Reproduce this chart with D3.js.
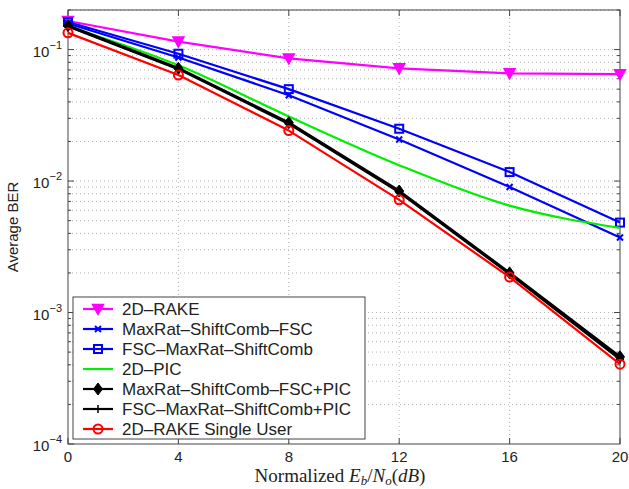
<!DOCTYPE html>
<html>
<head>
<meta charset="utf-8">
<title>BER chart</title>
<style>
body { margin: 0; background-color: #ffffff; }
text { font-family: "Liberation Sans", Arial, sans-serif; }
</style>
</head>
<body>
<script src="https://d3js.org/d3.v7.min.js"></script>
<script>

// data
var snr = [0, 4, 8, 12, 16, 20];
var rake = [0.165, 0.115, 0.0856, 0.072, 0.066, 0.065];
var maxFsc = [0.158, 0.087, 0.045, 0.0207, 0.0090, 0.00372];
var fscMax = [0.162, 0.093, 0.050, 0.0250, 0.0117, 0.00483];
var pic = [0.150, 0.076, 0.031, 0.0132, 0.0065, 0.0044];
var maxFscPic = [0.152, 0.072, 0.0278, 0.0084, 0.0020, 0.00046];
var fscMaxPic = [0.150, 0.071, 0.0272, 0.0082, 0.00196, 0.00044];
var singleUser = [0.134, 0.064, 0.0242, 0.0072, 0.00186, 0.000405];

var xTicks = [0, 4, 8, 12, 16, 20];
var yDecades = [-4, -3, -2, -1];

var series = [
  {name: "2D\u2013RAKE", vals: rake, color: "#ff00ff", marker: "tri", width: 2.2},
  {name: "MaxRat\u2013ShiftComb\u2013FSC", vals: maxFsc, color: "#0000ff", marker: "x", width: 2.2},
  {name: "FSC\u2013MaxRat\u2013ShiftComb", vals: fscMax, color: "#0000ff", marker: "square", width: 2.2},
  {name: "2D\u2013PIC", vals: pic, color: "#00ee00", marker: null, width: 2.2},
  {name: "MaxRat\u2013ShiftComb\u2013FSC+PIC", vals: maxFscPic, color: "#000000", marker: "diamond", width: 2.8},
  {name: "FSC\u2013MaxRat\u2013ShiftComb+PIC", vals: fscMaxPic, color: "#000000", marker: "plus", width: 2.2},
  {name: "2D\u2013RAKE Single User", vals: singleUser, color: "#ff0000", marker: "circle", width: 2.2}
];

var W = 629, H = 489;
var margin = {left: 68, right: 9, top: 10, bottom: 45};

var svg = d3.select("body").append("svg")
  .attr("width", W).attr("height", H);

var x = d3.scaleLinear().domain([0, 20]).range([margin.left, W - margin.right]);
var y = d3.scaleLog().domain([1e-4, 0.2]).range([H - margin.bottom, margin.top]);

var x0 = x.range()[0], x1 = x.range()[1];
var yb = y.range()[0], yt = y.range()[1];

// minor values for grid
var minors = [];
yDecades.forEach(function(e) {
  for (var k = 1; k <= 9; k++) {
    var v = k * Math.pow(10, e);
    if (v <= 0.2 && v > 1e-4) minors.push(v);
  }
});

var grid = svg.append("g");
grid.selectAll("line.gy").data(minors).enter().append("line")
  .attr("x1", x0).attr("x2", x1)
  .attr("y1", function(d) { return y(d); })
  .attr("y2", function(d) { return y(d); })
  .attr("stroke", "#b0b0b0").attr("stroke-width", 1)
  .attr("stroke-dasharray", "1,3");
grid.selectAll("line.gx").data(xTicks.slice(1, -1)).enter().append("line")
  .attr("x1", function(d) { return x(d); })
  .attr("x2", function(d) { return x(d); })
  .attr("y1", yt).attr("y2", yb)
  .attr("stroke", "#b0b0b0").attr("stroke-width", 1)
  .attr("stroke-dasharray", "1,3");

// axis box
svg.append("rect").attr("x", x0).attr("y", yt)
  .attr("width", x1 - x0).attr("height", yb - yt)
  .attr("fill", "none").attr("stroke", "#444").attr("stroke-width", 1);

// ticks inside
var ticks = svg.append("g").attr("stroke", "#444").attr("stroke-width", 1);
xTicks.forEach(function(t) {
  ticks.append("line").attr("x1", x(t)).attr("x2", x(t)).attr("y1", yb).attr("y2", yb - 6);
  ticks.append("line").attr("x1", x(t)).attr("x2", x(t)).attr("y1", yt).attr("y2", yt + 6);
});
minors.forEach(function(v) {
  var major = Math.abs(Math.log10(v) - Math.round(Math.log10(v))) < 1e-9;
  var len = major ? 6 : 3;
  ticks.append("line").attr("x1", x0).attr("x2", x0 + len).attr("y1", y(v)).attr("y2", y(v));
  ticks.append("line").attr("x1", x1).attr("x2", x1 - len).attr("y1", y(v)).attr("y2", y(v));
});
ticks.append("line").attr("x1", x0).attr("x2", x0 + 6).attr("y1", y(1e-4)).attr("y2", y(1e-4));

// tick labels
svg.selectAll("text.xt").data(xTicks).enter().append("text")
  .attr("x", function(d) { return x(d); })
  .attr("y", yb + 18)
  .attr("text-anchor", "middle")
  .attr("font-size", 15).attr("fill", "#222")
  .text(function(d) { return d; });

yDecades.forEach(function(e) {
  var t = svg.append("text")
    .attr("x", x0 - 6).attr("y", y(Math.pow(10, e)) + 7)
    .attr("text-anchor", "end").attr("font-size", 15).attr("fill", "#222");
  t.append("tspan").text("10");
  t.append("tspan").attr("dy", -8).attr("font-size", 11).text("\u2212" + (-e));
});

// axis titles
svg.append("text")
  .attr("transform", "translate(18," + ((yt + yb) / 2) + ") rotate(-90)")
  .attr("text-anchor", "middle").attr("font-size", 15).attr("fill", "#222")
  .text("Average BER");

var xl = svg.append("text")
  .attr("x", (x0 + x1) / 2 - 4).attr("y", H - 7)
  .attr("text-anchor", "middle").attr("font-size", 19).attr("fill", "#222")
  .style("font-family", "'Liberation Serif', 'Times New Roman', serif");
xl.append("tspan").text("Normalized ");
xl.append("tspan").attr("font-style", "italic").text("E");
xl.append("tspan").attr("font-style", "italic").attr("font-size", 13).attr("dy", 3).text("b");
xl.append("tspan").attr("dy", -3).text("/");
xl.append("tspan").attr("font-style", "italic").text("N");
xl.append("tspan").attr("font-style", "italic").attr("font-size", 13).attr("dy", 3).text("o");
xl.append("tspan").attr("dy", -3).text("(");
xl.append("tspan").attr("font-style", "italic").text("dB");
xl.append("tspan").text(")");

// markers
function drawMarker(g, kind, color, cx, cy) {
  if (kind === "tri") {
    g.append("path").attr("d", "M" + (cx - 5.5) + "," + (cy - 4.5) + "L" + (cx + 5.5) + "," + (cy - 4.5) + "L" + cx + "," + (cy + 5.5) + "Z")
      .attr("fill", color).attr("stroke", color).attr("stroke-width", 1.5);
  } else if (kind === "square") {
    g.append("rect").attr("x", cx - 4).attr("y", cy - 4).attr("width", 8).attr("height", 8)
      .attr("fill", "none").attr("stroke", color).attr("stroke-width", 2);
  } else if (kind === "x") {
    g.append("path").attr("d", "M" + (cx - 3) + "," + (cy - 3) + "L" + (cx + 3) + "," + (cy + 3) + "M" + (cx - 3) + "," + (cy + 3) + "L" + (cx + 3) + "," + (cy - 3))
      .attr("stroke", color).attr("stroke-width", 2);
  } else if (kind === "diamond") {
    g.append("path").attr("d", "M" + cx + "," + (cy - 6) + "L" + (cx + 4.5) + "," + cy + "L" + cx + "," + (cy + 6) + "L" + (cx - 4.5) + "," + cy + "Z")
      .attr("fill", color).attr("stroke", color).attr("stroke-width", 1);
  } else if (kind === "plus") {
    g.append("path").attr("d", "M" + (cx - 4) + "," + cy + "L" + (cx + 4) + "," + cy + "M" + cx + "," + (cy - 4) + "L" + cx + "," + (cy + 4))
      .attr("stroke", color).attr("stroke-width", 1.5);
  } else if (kind === "circle") {
    g.append("circle").attr("cx", cx).attr("cy", cy).attr("r", 4.5)
      .attr("fill", "none").attr("stroke", color).attr("stroke-width", 2);
  }
}

var line = d3.line()
  .x(function(d, i) { return x(snr[i]); })
  .y(function(d) { return y(d); });

var plot = svg.append("g");
series.forEach(function(s) {
  plot.append("path").datum(s.vals)
    .attr("d", s.marker ? line : line.curve(d3.curveMonotoneX))
    .attr("fill", "none").attr("stroke", s.color).attr("stroke-width", s.width)
    .attr("stroke-linejoin", "round");
  line.curve(d3.curveLinear);
  if (s.marker) {
    s.vals.forEach(function(v, i) { drawMarker(plot, s.marker, s.color, x(snr[i]), y(v)); });
  }
});

// legend
var lg = svg.append("g");
var lx = 73, ly = 297, lw = 292, lh = 142;
lg.append("rect").attr("x", lx).attr("y", ly).attr("width", lw).attr("height", lh)
  .attr("fill", "#ffffff").attr("stroke", "#444").attr("stroke-width", 1);
series.forEach(function(s, i) {
  var cy = ly + 12 + i * 20;
  lg.append("line").attr("x1", lx + 10).attr("x2", lx + 40).attr("y1", cy).attr("y2", cy)
    .attr("stroke", s.color).attr("stroke-width", 2.2);
  if (s.marker) drawMarker(lg, s.marker, s.color, lx + 25, cy);
  lg.append("text").attr("x", lx + 49).attr("y", cy + 6)
    .attr("font-size", 17).attr("fill", "#222").text(s.name);
});

</script>
</body>
</html>
